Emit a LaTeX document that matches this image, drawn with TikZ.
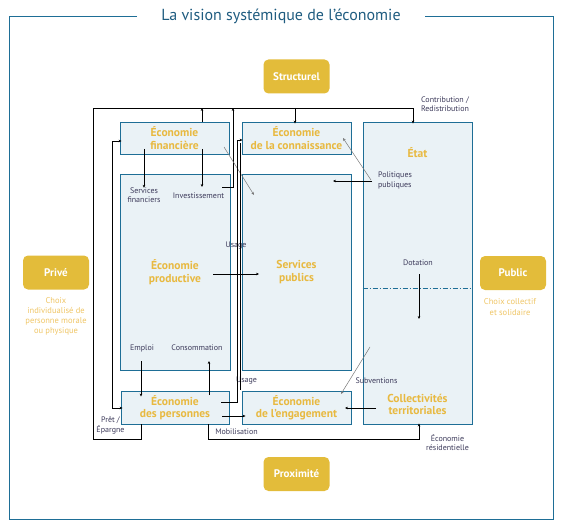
\documentclass[tikz,border=0pt]{standalone}
\usepackage{fontspec}
\setmainfont{PT Sans}
\usetikzlibrary{arrows.meta,calc}
\definecolor{frameblue}{RGB}{30,110,150}
\definecolor{boxfill}{RGB}{234,242,246}
\definecolor{goldbox}{RGB}{227,188,58}
\definecolor{goldtext}{RGB}{232,185,64}
\definecolor{lightgold}{RGB}{239,197,101}
\definecolor{darktext}{RGB}{60,58,90}
\definecolor{titleblue}{RGB}{31,92,128}
\definecolor{grayline}{RGB}{120,120,120}
\begin{document}
\begin{tikzpicture}[x=1pt,y=-1pt,
  ecobox/.style={draw=frameblue, fill=boxfill, line width=0.9pt, inner sep=0pt, align=center,
    text=goldtext, font=\bfseries\fontsize{11.5}{12.5}\selectfont},
  goldlbl/.style={text=goldtext, align=center, inner sep=0pt, font=\bfseries\fontsize{11.5}{12.5}\selectfont},
  tagbox/.style={fill=goldbox, rounded corners=5pt, text=white, inner sep=0pt,
    font=\bfseries\fontsize{11}{12}\selectfont, minimum width=66pt, minimum height=34pt},
  smalllbl/.style={text=darktext, font=\fontsize{8}{9.2}\selectfont, align=center, inner sep=0pt},
  goldsmall/.style={text=lightgold, font=\fontsize{8.5}{10.2}\selectfont, align=center, inner sep=0pt},
  ln/.style={line width=0.8pt, draw=black},
  arr/.style={ln, -{Stealth[length=3pt,width=2.6pt]}},
  arrs/.style={ln, {Stealth[length=3pt,width=2.6pt]}-{Stealth[length=3pt,width=2.6pt]}},
  garr/.style={line width=0.5pt, draw=grayline, -{Stealth[length=3pt,width=2.6pt]}},
  frameline/.style={draw=frameblue, line width=1pt}
]
\useasboundingbox (0,0) rectangle (561,529);

% outer frame and title
\draw[frameline] (137,17) -- (9,17) -- (9,519) -- (553,519) -- (553,17) -- (425,17);
\node[text=titleblue, font=\fontsize{16}{18}\selectfont, inner sep=0pt] (title) at (281,16) {La vision systémique de l’économie};

% tag boxes
\node[tagbox] (struct) at (296.5,76.5) {Structurel};
\node[tagbox] (prox) at (296.5,474) {Proximité};
\node[tagbox] (prive) at (56,272.5) {Privé};
\node[tagbox] (public) at (513,273) {Public};
\node[goldsmall] (prived) at (56,316.5) {Choix\\individualisé de\\personne morale\\ou physique};
\node[goldsmall] (publicd) at (510,307) {Choix collectif\\et solidaire};

% main boxes
\node[ecobox, minimum width=109pt, minimum height=32pt] (fin) at (174.5,138) {Économie\\financière};
\node[ecobox, minimum width=109pt, minimum height=32pt] (con) at (296.5,138) {Économie\\de la connaissance};
\node[ecobox, minimum width=109pt, minimum height=302pt] (etat) at (417.5,273) {};
\node[ecobox, minimum width=110pt, minimum height=196pt] (prod) at (175,272) {Économie\\productive};
\node[ecobox, minimum width=109pt, minimum height=196pt] (serv) at (296.5,272) {Services\\publics};
\node[ecobox, minimum width=108pt, minimum height=33pt] (pers) at (175,407.5) {Économie\\des personnes};
\node[ecobox, minimum width=109pt, minimum height=33pt] (eng) at (296.5,407.5) {Économie\\de l’engagement};
\node[goldlbl] (etatl) at (417.5,153) {État};
\node[goldlbl] (coll) at (417.5,404.5) {Collectivités\\territoriales};
\draw[draw=frameblue, line width=0.9pt, dash pattern=on 5pt off 2pt on 1pt off 2pt] (etat.west |- 0,288) -- (etat.east |- 0,288);

% small labels
\node[smalllbl] (sfin) at (144,195.5) {Services\\financiers};
\node[smalllbl] (inv) at (198.5,196) {Investissement};
\node[smalllbl] (usage1) at (236,246) {Usage};
\node[smalllbl] (emploi) at (142,348) {Emploi};
\node[smalllbl] (conso) at (197,348) {Consommation};
\node[smalllbl] (usage2) at (246.5,381) {Usage};
\node[smalllbl] (pret) at (110.5,425.5) {Prêt /\\Épargne};
\node[smalllbl] (mobil) at (236.5,432) {Mobilisation};
\node[smalllbl] (subv) at (376.5,381) {Subventions};
\node[smalllbl] (resid) at (447.5,442.5) {Économie\\résidentielle};
\node[smalllbl] (contrib) at (445,104.5) {Contribution /\\Redistribution};
\node[smalllbl, align=left] (polit) at (395,180.5) {Politiques\\publiques};
\node[smalllbl] (dot) at (418,263) {Dotation};

% coordinates of bends
\coordinate (tl) at (93,108);
\coordinate (tr) at (413,108);
\coordinate (tc) at (295,108);
\coordinate (tf) at (202,108);
\coordinate (ti) at (233,108);
\coordinate (bl) at (93,439);
\coordinate (pe) at (141,439);
\coordinate (mb) at (208,439);
\coordinate (mr) at (419,439);

% top loop: personnes -> contribution -> connaissance / Etat
\draw[arr] (pers.south -| pe) -- (pe) -- (bl) -- (tl) -- (tr) -- ($(etat.north -| tr)+(0,2)$);
\draw[arr] (tc) -- ($(con.north -| tc)+(0,2)$);
\draw[arr] (fin.north -| tf) -- (tf);
\draw[arr] (222,187) -- (233,187) -- (ti);

% financiere <-> personnes
\draw[arrs] ($(fin.west |- 0,141)+(2,0)$) -- (112,141) -- (112,408) -- ($(pers.west |- 0,408)+(2,0)$);

% financiere -> services financiers, investissement
\draw[arr] (144,149) -- (sfin.north);
\draw[arr] (202,149) -- (202,187);
\draw[garr] (224,147) -- (254,195);

% connaissance usage lines
\draw[arr] (221,402) -- (237.5,402) -- (237.5,140) -- ($(con.west |- 0,140)+(1,0)$);
\draw[ln] (240,143) -- (240,390);

% productive -> services publics
\draw[arr] (213,274) -- (259,274);

% politiques publiques
\draw[arr] (372,181) -- (333,181);
\draw[garr] (371,180) -- (343,138);

% emploi, consommation
\draw[arr] (141,361) -- ($(pers.north -| 141,0)+(0,6)$);
\draw[arr] (209,395) -- (209,361);

% personnes -> engagement
\draw[arr] (222,416) -- ($(eng.west |- 0,416)+(4,0)$);

% mobilisation
\draw[arr] (pers.south -| mb) -- (mb) -- (mr) -- ($(etat.south -| mr)+(0,-1)$);

% subventions, collectivites -> engagement
\draw[garr] (370,347) -- (341,394);
\draw[arr] (376,408) -- (345,408);

% dotation
\draw[arr] (419,274) -- (419,319);
\end{tikzpicture}
\end{document}
